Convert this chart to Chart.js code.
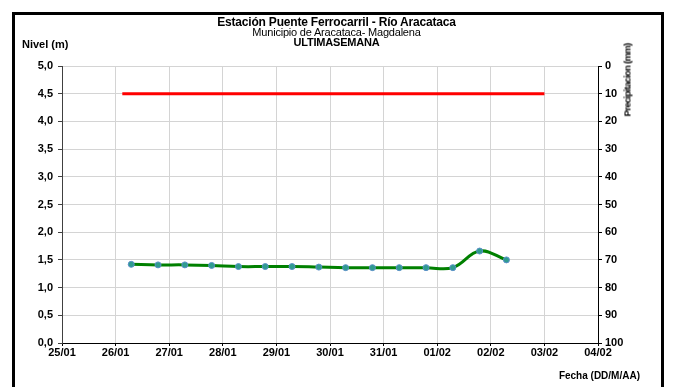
<!DOCTYPE html>
<html>
<head>
<meta charset="utf-8">
<script src="https://cdn.jsdelivr.net/npm/chart.js@4.4.1/dist/chart.umd.min.js"></script>
<style>
  html, body { margin: 0; padding: 0; background: #fff; }
  body { width: 673px; height: 387px; position: relative; overflow: hidden; font-family: "Liberation Sans", Arial, sans-serif; }
  #frame { position: absolute; left: 12px; top: 12px; width: 646px; height: 420px; border: 3px solid #000; }
  #wrap { position: absolute; left: 0; top: 0; width: 673px; height: 387px; }
  .txt { position: absolute; color: #000; white-space: nowrap; }
  #titulo { left: 0; width: 673px; top: 17px; text-align: center; font-size: 11px; line-height: 10px; letter-spacing: -0.2px; }
  #titulo .b { font-weight: bold; }
  #titulo .t1 { font-size: 12px; }
  #nivel { left: 22px; top: 38px; font-size: 11px; font-weight: bold; }
  #fecha { right: 33px; top: 370px; font-size: 10px; font-weight: bold; }
  #precip { left: 627px; top: 80px; font-size: 9.5px; font-weight: bold; letter-spacing: -0.7px; transform: translate(-50%, -50%) rotate(-90deg); }
</style>
</head>
<body>
<div id="frame"></div>
<div id="wrap"><canvas id="grafico" width="673" height="387"></canvas></div>
<div class="txt" id="titulo">
  <div class="b t1">Estación Puente Ferrocarril - Río Aracataca</div>
  <div>Municipio de Aracataca- Magdalena</div>
  <div class="b">ULTIMASEMANA</div>
</div>
<div class="txt" id="nivel">Nivel (m)</div>
<div class="txt" id="precip">Precipitacion (mm)</div>
<div class="txt" id="fecha">Fecha (DD/M/AA)</div>
<script>
// etiquetas del eje de fechas (una por dia)
const dias = ['25/01', '26/01', '27/01', '28/01', '29/01', '30/01', '31/01', '01/02', '02/02', '03/02', '04/02'];

// nivel del rio, lecturas de 7:00 y 19:00
const fechasNivel = [
  '26/01 07:00', '26/01 19:00', '27/01 07:00', '27/01 19:00', '28/01 07:00',
  '28/01 19:00', '29/01 07:00', '29/01 19:00', '30/01 07:00', '30/01 19:00',
  '31/01 07:00', '31/01 19:00', '01/02 07:00', '01/02 19:00', '02/02 07:00'
];
const nivel = [1.42, 1.41, 1.41, 1.40, 1.38, 1.38, 1.38, 1.37, 1.36, 1.36, 1.36, 1.36, 1.36, 1.66, 1.50];

// nivel de alerta
const fechasUmbral = ['26/01 03:00', '03/02 00:00'];
const umbral = [4.5, 4.5];

// convierte 'DD/MM HH:MM' a dias desde 25/01
function aDias(txt) {
  const [fecha, hora] = txt.split(' ');
  const [d, m] = fecha.split('/').map(Number);
  const [h, min] = hora.split(':').map(Number);
  const base = m === 1 ? d - 25 : d + 6;
  return base + (h + min / 60) / 24;
}

const fuenteTicks = { family: '"Liberation Sans", Arial, sans-serif', size: 11, weight: 'bold' };

new Chart(document.getElementById('grafico'), {
  type: 'line',
  data: {
    datasets: [
      {
        label: 'Umbral',
        data: fechasUmbral.map((f, i) => ({ x: aDias(f), y: umbral[i] })),
        borderColor: '#ff0000',
        borderWidth: 3,
        pointRadius: 0,
        tension: 0,
        yAxisID: 'y'
      },
      {
        label: 'Nivel',
        data: fechasNivel.map((f, i) => ({ x: aDias(f), y: nivel[i] })),
        borderColor: '#008000',
        borderWidth: 3,
        pointRadius: 3,
        pointBorderWidth: 1,
        pointBackgroundColor: '#2f9c8f',
        pointBorderColor: '#5b8fc9',
        tension: 0.4,
        yAxisID: 'y'
      }
    ]
  },
  options: {
    responsive: false,
    animation: false,
    layout: { padding: { left: 22, right: 30, top: 66, bottom: 24 } },
    plugins: { legend: { display: false }, tooltip: { enabled: false } },
    scales: {
      x: {
        type: 'linear',
        min: 0,
        max: 10,
        ticks: {
          stepSize: 1,
          color: '#000',
          font: fuenteTicks,
          padding: 0,
          maxRotation: 0,
          callback: v => dias[v]
        },
        grid: { color: '#d4d4d4', tickLength: 3, tickColor: '#000' },
        border: { color: '#000', width: 1 },
        afterFit: s => { s.height = 20; }
      },
      y: {
        position: 'left',
        min: 0,
        max: 5,
        ticks: {
          stepSize: 0.5,
          color: '#000',
          font: fuenteTicks,
          padding: 5,
          callback: v => v.toFixed(1).replace('.', ',')
        },
        grid: { color: '#d4d4d4', tickLength: 4, tickColor: '#404040' },
        border: { color: '#404040', width: 1 },
        afterFit: s => { s.width = 40; }
      },
      y2: {
        position: 'right',
        display: true,
        reverse: true,
        min: 0,
        max: 100,
        ticks: { stepSize: 10, color: '#000', font: fuenteTicks, padding: 3 },
        grid: { drawOnChartArea: false, tickLength: 4, tickColor: '#000' },
        border: { color: '#000', width: 1 },
        afterFit: s => { s.width = 45; }
      }
    }
  }
});
</script>
</body>
</html>
